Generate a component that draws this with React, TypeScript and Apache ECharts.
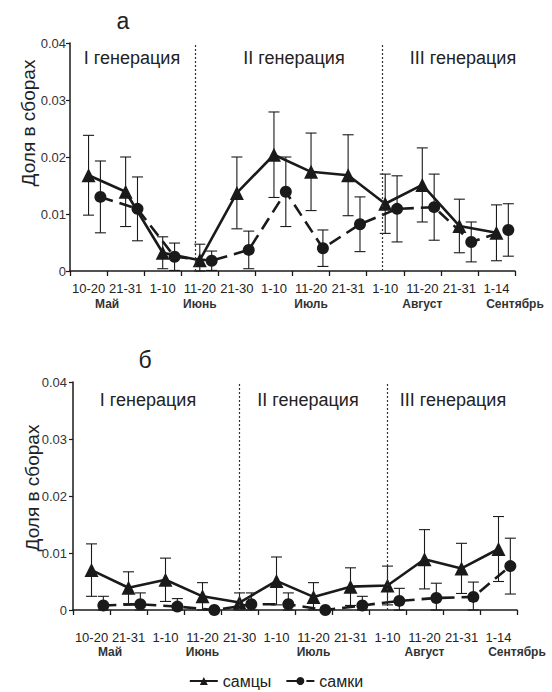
import React, { useEffect, useRef } from "react";
import * as echarts from "echarts";

// 10-day periods (May .. September)
const periods = ["10-20", "21-31", "1-10", "11-20", "21-30", "1-10", "11-20", "21-31", "1-10", "11-20", "21-31", "1-14"];
const months = ["Май", "Июнь", "Июль", "Август", "Сентябрь"];
const monthPos = [1, 3.5, 6.5, 9.5, 12];
const generations = ["I генерация", "II генерация", "III генерация"];

// panel "а"
const maleA = [0.0168, 0.0139, 0.0032, 0.0019, 0.0137, 0.0204, 0.0174, 0.0168, 0.0118, 0.0151, 0.0079, 0.0067];
const maleAErr = [0.007, 0.0061, 0.0028, 0.0028, 0.0063, 0.0075, 0.0068, 0.0071, 0.0052, 0.0065, 0.0047, 0.0049];
const femaleA = [0.013, 0.0109, 0.0025, 0.0018, 0.0037, 0.0139, 0.004, 0.0082, 0.0109, 0.0112, 0.0051, 0.0072];
const femaleAErr = [0.0063, 0.0056, 0.0024, 0.0017, 0.0033, 0.0061, 0.0032, 0.0048, 0.0058, 0.0058, 0.0035, 0.0046];
const dividersA = [3.37, 8.42];

// panel "б"
const maleB = [0.007, 0.0039, 0.0053, 0.0024, 0.0013, 0.0051, 0.0023, 0.0041, 0.0043, 0.0089, 0.0073, 0.0107];
const maleBErr = [0.0046, 0.0028, 0.0038, 0.0024, 0.0017, 0.0042, 0.0025, 0.0033, 0.0034, 0.0052, 0.0044, 0.0057];
const femaleB = [0.0008, 0.001, 0.0006, 0.0, 0.001, 0.001, 0.0, 0.0008, 0.0016, 0.0021, 0.0023, 0.0077];
const femaleBErr = [0.0016, 0.002, 0.0014, 0, 0.002, 0.002, 0, 0.0016, 0.0022, 0.0026, 0.0026, 0.0049];
const dividersB = [4.5, 8.5];

const FONT = "'Liberation Sans', Arial, Helvetica, sans-serif";
const INK = "#1a1a1a";
const MALE_OFF = 0.5;
const FEMALE_OFF = 0.82;

function errData(vals: number[], errs: number[], off: number) {
  return vals.map((v, i) => [i + off, Math.max(0, v - errs[i]), v + errs[i]]);
}

const renderErr = (params: any, api: any) => {
  const x = api.value(0);
  const lo = api.value(1);
  const hi = api.value(2);
  if (hi - lo <= 0) return { type: "group", children: [] };
  const top = api.coord([x, hi]);
  const bot = api.coord([x, lo]);
  const w = 5.5;
  const style = { stroke: INK, lineWidth: 1.1 };
  return {
    type: "group",
    children: [
      { type: "line", shape: { x1: top[0], y1: top[1], x2: bot[0], y2: bot[1] }, style },
      { type: "line", shape: { x1: top[0] - w, y1: top[1], x2: top[0] + w, y2: top[1] }, style },
      { type: "line", shape: { x1: bot[0] - w, y1: bot[1], x2: bot[0] + w, y2: bot[1] }, style },
    ],
  };
};

export default function App() {
  const ref = useRef<HTMLDivElement>(null);
  useEffect(() => {
    document.body.style.margin = "0";
    if (!ref.current) return;
    const chart = echarts.init(ref.current, undefined, { renderer: "svg" });

    const panels = [
      { male: maleA, maleErr: maleAErr, female: femaleA, femaleErr: femaleAErr, dividers: dividersA, grid: { left: 70, top: 43, width: 445, height: 228 }, labelMargin: 11, monthMargin: 27, yMargin: 4 },
      { male: maleB, maleErr: maleBErr, female: femaleB, femaleErr: femaleBErr, dividers: dividersB, grid: { left: 73, top: 382, width: 444, height: 228 }, labelMargin: 21, monthMargin: 36, yMargin: 6 },
    ];

    const grid: any[] = [];
    const xAxis: any[] = [];
    const yAxis: any[] = [];
    const series: any[] = [];

    panels.forEach((p, g) => {
      grid.push({ ...p.grid, containLabel: false });
      xAxis.push({
        type: "category",
        gridIndex: g,
        data: periods,
        boundaryGap: true,
        position: "bottom",
        axisLine: { show: true, lineStyle: { color: INK, width: 1.5 } },
        axisTick: { show: true, length: 5, lineStyle: { color: INK, width: 1.3 } },
        axisLabel: { interval: 0, margin: p.labelMargin, fontSize: 13, color: "#222", fontFamily: FONT },
        splitLine: { show: false },
      });
      xAxis.push({
        type: "value",
        gridIndex: g,
        min: 0,
        max: 12,
        position: "bottom",
        axisLine: { show: false },
        axisTick: { show: false },
        splitLine: { show: false },
        axisLabel: {
          show: true,
          customValues: monthPos,
          margin: p.monthMargin,
          fontSize: 12,
          fontWeight: "bold",
          color: "#333",
          fontFamily: FONT,
          formatter: (v: number) => {
            const k = monthPos.indexOf(v);
            return k >= 0 ? months[k] : "";
          },
        },
      });
      yAxis.push({
        type: "value",
        gridIndex: g,
        min: 0,
        max: 0.04,
        interval: 0.01,
        axisLine: { show: true, lineStyle: { color: INK, width: 1.5 } },
        axisTick: { show: true, length: 4, lineStyle: { color: INK, width: 1.2 } },
        axisLabel: {
          margin: p.yMargin,
          fontSize: 13,
          color: "#333",
          fontFamily: FONT,
          formatter: (v: number) => (v === 0 ? "0" : v.toFixed(2)),
        },
        splitLine: { show: false },
      });

      const xi = g * 2 + 1;
      series.push({
        type: "custom",
        name: "err-m" + g,
        xAxisIndex: xi,
        yAxisIndex: g,
        renderItem: renderErr,
        encode: { x: 0, y: [1, 2] },
        data: errData(p.male, p.maleErr, MALE_OFF),
        z: 1,
        silent: true,
      });
      series.push({
        type: "custom",
        name: "err-f" + g,
        xAxisIndex: xi,
        yAxisIndex: g,
        renderItem: renderErr,
        encode: { x: 0, y: [1, 2] },
        data: errData(p.female, p.femaleErr, FEMALE_OFF),
        z: 1,
        silent: true,
      });
      series.push({
        name: "самцы",
        type: "line",
        xAxisIndex: xi,
        yAxisIndex: g,
        data: p.male.map((v, i) => [i + MALE_OFF, v]),
        symbol: "triangle",
        symbolSize: 14,
        lineStyle: { color: INK, width: 2.6 },
        itemStyle: { color: INK },
        z: 4,
        markLine: {
          silent: true,
          symbol: ["none", "none"],
          label: { show: false },
          lineStyle: { type: [2, 2], color: "#333", width: 1.2 },
          data: p.dividers.map((d) => ({ xAxis: d })),
        },
      });
      series.push({
        name: "самки",
        type: "line",
        xAxisIndex: xi,
        yAxisIndex: g,
        data: p.female.map((v, i) => [i + FEMALE_OFF, v]),
        symbol: "circle",
        symbolSize: 12,
        lineStyle: { color: INK, width: 2.6, type: [13, 7] },
        itemStyle: { color: INK },
        z: 3,
      });
    });

    const genPos = [
      [[132, 58], [294, 58], [463, 58]],
      [[148, 400], [308, 400], [453, 400]],
    ];
    const graphic: any[] = [];
    genPos.forEach((row) =>
      row.forEach((pt, k) =>
        graphic.push({
          type: "text",
          x: pt[0],
          y: pt[1],
          style: { text: generations[k], fontSize: 18, fontFamily: FONT, fill: "#222", textAlign: "center", textVerticalAlign: "middle" },
        })
      )
    );
    [[28, 123], [32, 488]].forEach((pt) =>
      graphic.push({
        type: "text",
        x: pt[0],
        y: pt[1],
        rotation: Math.PI / 2,
        style: { text: "Доля в сборах", fontSize: 19, fontFamily: FONT, fill: "#222", textAlign: "center", textVerticalAlign: "middle" },
      })
    );
    [["а", 123, 21], ["б", 145, 360]].forEach((t) =>
      graphic.push({
        type: "text",
        x: t[1],
        y: t[2],
        style: { text: t[0], fontSize: 23, fontFamily: FONT, fill: "#222", textAlign: "center", textVerticalAlign: "middle" },
      })
    );

    chart.setOption({
      animation: false,
      backgroundColor: "#ffffff",
      grid,
      xAxis,
      yAxis,
      series,
      graphic,
      legend: {
        data: ["самцы", "самки"],
        left: "center",
        bottom: 2,
        padding: 0,
        itemWidth: 28,
        itemHeight: 10,
        itemGap: 14,
        textStyle: { fontSize: 16, color: "#222", fontFamily: FONT, lineHeight: 18 },
      },
    });
    return () => chart.dispose();
  }, []);
  return <div ref={ref} style={{ width: 552, height: 692 }} />;
}
